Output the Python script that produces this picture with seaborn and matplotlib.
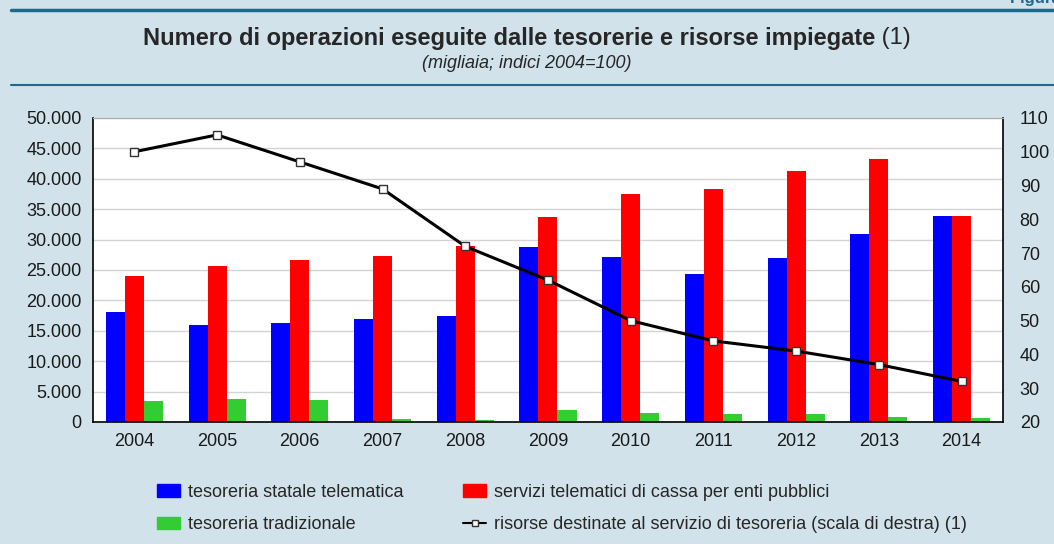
import numpy as np
import pandas as pd
import seaborn as sns
import matplotlib.pyplot as plt
from matplotlib.lines import Line2D
from matplotlib.patches import Patch
from matplotlib.ticker import FuncFormatter, MultipleLocator

# data (thousands; index 2004=100)
years = ['2004', '2005', '2006', '2007', '2008', '2009', '2010', '2011', '2012', '2013', '2014']
statale = [18100, 16000, 16300, 17000, 17400, 28800, 27100, 24300, 27000, 30900, 33900]
servizi = [24000, 25700, 26600, 27300, 29000, 33700, 37500, 38300, 41300, 43300, 33900]
tradizionale = [3500, 3800, 3600, 500, 400, 2000, 1500, 1300, 1300, 800, 600]
risorse = [100, 105, 97, 89, 72, 62, 50, 44, 41, 37, 32]

series_names = ['tesoreria statale telematica',
                'servizi telematici di cassa per enti pubblici',
                'tesoreria tradizionale']
line_name = 'risorse destinate al servizio di tesoreria (scala di destra) (1)'
colors = ['#0000ff', '#ff0000', '#33cc33']

df = pd.DataFrame({'anno': years * 3,
                   'valore': statale + servizi + tradizionale,
                   'serie': [series_names[0]] * 11 + [series_names[1]] * 11 + [series_names[2]] * 11})

sns.set_style('white')
plt.rcParams['font.family'] = ['Liberation Sans', 'DejaVu Sans']
bg = '#d1e2eb'
teal = '#1d6b8c'

fig = plt.figure(figsize=(10.54, 5.44), dpi=100, facecolor=bg)
ax = fig.add_axes([0.0882, 0.2243, 0.8634, 0.5588])
ax.set_facecolor('white')

sns.barplot(data=df, x='anno', y='valore', hue='serie', palette=colors,
            width=0.69, saturation=1, ax=ax, legend=False, linewidth=0)
ax.set_ylim(0, 50000)
ax.set_xlim(-0.5, len(years) - 0.5)
ax.yaxis.set_major_locator(MultipleLocator(5000))
ax.yaxis.set_major_formatter(FuncFormatter(lambda v, p: f'{int(v):,}'.replace(',', '.')))
ax.grid(axis='y', color='#d4d4d4', lw=1)
ax.set_axisbelow(True)
ax.set_xlabel('')
ax.set_ylabel('')
ax.tick_params(axis='both', length=0, labelsize=13, pad=8, colors='#1a1a1a')
ax.set_xticks(np.arange(len(years) - 1) + 0.5, minor=True)
ax.tick_params(axis='x', which='minor', direction='in', length=5, color='#cccccc')
for s in ['left', 'bottom', 'right']:
    ax.spines[s].set_color('black')
    ax.spines[s].set_linewidth(1.2)
ax.spines['top'].set_color('#aaaaaa')

ax2 = ax.twinx()
sns.lineplot(x=np.arange(len(years)), y=risorse, color='black', lw=2.2, marker='s',
             markersize=6, markerfacecolor='white', markeredgecolor='#333333',
             markeredgewidth=1, ax=ax2)
ax2.set_ylim(20, 110)
ax2.yaxis.set_major_locator(MultipleLocator(10))
ax2.tick_params(axis='y', length=0, labelsize=13, pad=12, colors='#1a1a1a')
for s in ax2.spines.values():
    s.set_visible(False)

# header
fig.add_artist(Line2D([0.01, 1.0], [0.981, 0.981], color=teal, lw=2.5))
fig.add_artist(Line2D([0.01, 1.0], [0.843, 0.843], color=teal, lw=1.5))
fig.text(0.958, 1.003, 'Figura 2.1', color=teal, fontsize=12, fontweight='bold', ha='left', va='center')
t1 = fig.text(0.5, 0.930, 'Numero di operazioni eseguite dalle tesorerie e risorse impiegate',
              fontsize=17, fontweight='bold', ha='left', va='center')
t2 = fig.text(0.5, 0.930, ' (1)', fontsize=17, ha='left', va='center')
r = fig.canvas.get_renderer()
w1 = t1.get_window_extent(r).width / fig.bbox.width
w2 = t2.get_window_extent(r).width / fig.bbox.width
x0 = 0.5 - (w1 + w2) / 2
t1.set_x(x0)
t2.set_x(x0 + w1)
fig.text(0.5, 0.884, '(migliaia; indici 2004=100)', fontsize=13, style='italic', ha='center', va='center')

handles = [Patch(color=colors[0], label=series_names[0]),
           Patch(color=colors[2], label=series_names[2]),
           Patch(color=colors[1], label=series_names[1]),
           Line2D([], [], color='black', lw=1.5, marker='s', markersize=5,
                  markerfacecolor='white', markeredgecolor='#333333', label=line_name)]
fig.legend(handles=handles, ncol=2, loc='upper left', bbox_to_anchor=(0.134, 0.140),
           frameon=False, fontsize=13, handlelength=1.25, handleheight=0.7, handletextpad=0.45,
           columnspacing=3.3, labelspacing=0.85)

fig.savefig('out.png', dpi=100, facecolor=bg)
